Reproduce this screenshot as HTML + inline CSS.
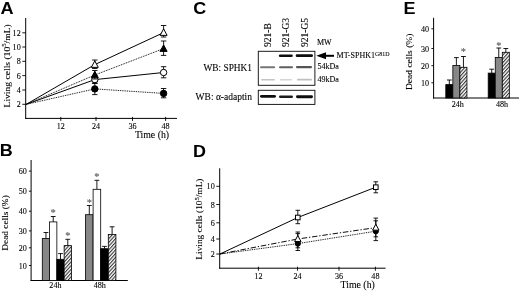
<!DOCTYPE html><html><head><meta charset="utf-8"><title>Figure</title>
<style>html,body{margin:0;padding:0;background:#fff;overflow:hidden}svg{display:block}text{stroke:#000;stroke-width:0.1px}.st{stroke:#555}.L{stroke:none}</style></head><body>
<svg width="520" height="291" viewBox="0 0 520 291">
<defs><pattern id="hatch" width="2.5" height="2.5" patternUnits="userSpaceOnUse" patternTransform="rotate(-48)"><rect width="2.5" height="2.5" fill="#fff"/><line x1="0" y1="0.6" x2="2.5" y2="0.6" stroke="#111" stroke-width="0.95"/></pattern></defs>
<rect width="520" height="291" fill="#fff"/>
<filter id="soft" x="0" y="0" width="520" height="291" filterUnits="userSpaceOnUse"><feGaussianBlur stdDeviation="0.32"/></filter>
<g filter="url(#soft)">
<rect width="520" height="291" fill="#fff"/>
<text transform="translate(0.6,13.6) scale(1.07,1)" font-size="17" text-anchor="start" font-family="Liberation Sans, sans-serif" font-weight="bold" class="L">A</text>
<text transform="translate(-0.2,156.2) scale(1.07,1)" font-size="16.8" text-anchor="start" font-family="Liberation Sans, sans-serif" font-weight="bold" class="L">B</text>
<text transform="translate(193.2,13.8) scale(1.07,1)" font-size="16.8" text-anchor="start" font-family="Liberation Sans, sans-serif" font-weight="bold" class="L">C</text>
<text transform="translate(193,156.7) scale(1.07,1)" font-size="16.8" text-anchor="start" font-family="Liberation Sans, sans-serif" font-weight="bold" class="L">D</text>
<text transform="translate(403.6,13.5) scale(1.07,1)" font-size="16.8" text-anchor="start" font-family="Liberation Sans, sans-serif" font-weight="bold" class="L">E</text>
<line x1="25.7" y1="18" x2="25.7" y2="118.9" stroke="#000" stroke-width="1" />
<line x1="25.2" y1="118.4" x2="177" y2="118.4" stroke="#000" stroke-width="1" />
<line x1="22.3" y1="32.8" x2="25.7" y2="32.8" stroke="#000" stroke-width="0.9" />
<text transform="translate(20.7,35.9) scale(0.89,1)" font-size="9.1" text-anchor="end" font-family="Liberation Serif, serif" >12</text>
<line x1="22.3" y1="47" x2="25.7" y2="47" stroke="#000" stroke-width="0.9" />
<text transform="translate(20.7,50.1) scale(0.89,1)" font-size="9.1" text-anchor="end" font-family="Liberation Serif, serif" >10</text>
<line x1="22.3" y1="61.3" x2="25.7" y2="61.3" stroke="#000" stroke-width="0.9" />
<text transform="translate(20.7,64.4) scale(0.89,1)" font-size="9.1" text-anchor="end" font-family="Liberation Serif, serif" >8</text>
<line x1="22.3" y1="75.6" x2="25.7" y2="75.6" stroke="#000" stroke-width="0.9" />
<text transform="translate(20.7,78.7) scale(0.89,1)" font-size="9.1" text-anchor="end" font-family="Liberation Serif, serif" >6</text>
<line x1="22.3" y1="90" x2="25.7" y2="90" stroke="#000" stroke-width="0.9" />
<text transform="translate(20.7,93.1) scale(0.89,1)" font-size="9.1" text-anchor="end" font-family="Liberation Serif, serif" >4</text>
<line x1="22.3" y1="104.3" x2="25.7" y2="104.3" stroke="#000" stroke-width="0.9" />
<text transform="translate(20.7,107.4) scale(0.89,1)" font-size="9.1" text-anchor="end" font-family="Liberation Serif, serif" >2</text>
<line x1="60.8" y1="116.9" x2="60.8" y2="120.9" stroke="#000" stroke-width="0.9" />
<text transform="translate(60.8,128.8) scale(0.89,1)" font-size="9.1" text-anchor="middle" font-family="Liberation Serif, serif" >12</text>
<line x1="96" y1="116.9" x2="96" y2="120.9" stroke="#000" stroke-width="0.9" />
<text transform="translate(96,128.8) scale(0.89,1)" font-size="9.1" text-anchor="middle" font-family="Liberation Serif, serif" >24</text>
<line x1="132.5" y1="116.9" x2="132.5" y2="120.9" stroke="#000" stroke-width="0.9" />
<text transform="translate(132.5,128.8) scale(0.89,1)" font-size="9.1" text-anchor="middle" font-family="Liberation Serif, serif" >36</text>
<line x1="165.6" y1="116.9" x2="165.6" y2="120.9" stroke="#000" stroke-width="0.9" />
<text transform="translate(165.6,128.8) scale(0.89,1)" font-size="9.1" text-anchor="middle" font-family="Liberation Serif, serif" >48</text>
<text x="152" y="137.8" font-size="9.799999999999999" text-anchor="middle" font-family="Liberation Serif, serif" >Time (h)</text>
<text transform="translate(9.6,65.85) rotate(-90) scale(1.13,1)" font-size="8.5" text-anchor="middle" font-family="Liberation Serif, serif">Living cells (10<tspan font-size="6" dy="-3.2">5</tspan><tspan dy="3.2">/mL)</tspan></text>
<polyline points="26.3,104.3 94.8,64.6 163.6,32.6" fill="none" stroke="#000" stroke-width="1.0" />
<polyline points="26.3,104.3 94.8,79.6 163.6,72.5" fill="none" stroke="#000" stroke-width="1.0" />
<polyline points="26.3,104.3 94.8,75 163.6,48.6" fill="none" stroke="#000" stroke-width="0.95" stroke-dasharray="0.95,0.85"/>
<polyline points="26.3,104.3 94.8,88.9 163.6,93.4" fill="none" stroke="#000" stroke-width="0.95" stroke-dasharray="0.95,0.85"/>
<line x1="94.8" y1="60" x2="94.8" y2="68.5" stroke="#000" stroke-width="0.9" />
<line x1="92.1" y1="60" x2="97.5" y2="60" stroke="#000" stroke-width="0.9" />
<line x1="92.1" y1="68.5" x2="97.5" y2="68.5" stroke="#000" stroke-width="0.9" />
<polygon points="94.8,60.9 91.28,67.38 98.31,67.38" fill="#fff" stroke="#000" stroke-width="1" stroke-linejoin="miter"/>
<line x1="163.6" y1="25.5" x2="163.6" y2="37" stroke="#000" stroke-width="0.9" />
<line x1="160.9" y1="25.5" x2="166.3" y2="25.5" stroke="#000" stroke-width="0.9" />
<line x1="160.9" y1="37" x2="166.3" y2="37" stroke="#000" stroke-width="0.9" />
<polygon points="163.6,28.9 160.09,35.38 167.11,35.38" fill="#fff" stroke="#000" stroke-width="1" stroke-linejoin="miter"/>
<line x1="94.8" y1="75.5" x2="94.8" y2="83.5" stroke="#000" stroke-width="0.9" />
<line x1="92.1" y1="75.5" x2="97.5" y2="75.5" stroke="#000" stroke-width="0.9" />
<line x1="92.1" y1="83.5" x2="97.5" y2="83.5" stroke="#000" stroke-width="0.9" />
<circle cx="94.8" cy="79.6" r="3.2" fill="#fff" stroke="#000" stroke-width="1"/>
<line x1="163.6" y1="66.7" x2="163.6" y2="77.8" stroke="#000" stroke-width="0.9" />
<line x1="160.9" y1="66.7" x2="166.3" y2="66.7" stroke="#000" stroke-width="0.9" />
<line x1="160.9" y1="77.8" x2="166.3" y2="77.8" stroke="#000" stroke-width="0.9" />
<circle cx="163.6" cy="72.5" r="3.2" fill="#fff" stroke="#000" stroke-width="1"/>
<line x1="94.8" y1="70.5" x2="94.8" y2="79" stroke="#000" stroke-width="0.9" />
<line x1="92.1" y1="70.5" x2="97.5" y2="70.5" stroke="#000" stroke-width="0.9" />
<line x1="92.1" y1="79" x2="97.5" y2="79" stroke="#000" stroke-width="0.9" />
<polygon points="94.8,71.3 91.28,77.78 98.31,77.78" fill="#000" stroke="#000" stroke-width="1" stroke-linejoin="miter"/>
<line x1="163.6" y1="41" x2="163.6" y2="55.4" stroke="#000" stroke-width="0.9" />
<line x1="160.9" y1="41" x2="166.3" y2="41" stroke="#000" stroke-width="0.9" />
<line x1="160.9" y1="55.4" x2="166.3" y2="55.4" stroke="#000" stroke-width="0.9" />
<polygon points="163.6,44.9 160.09,51.38 167.11,51.38" fill="#000" stroke="#000" stroke-width="1" stroke-linejoin="miter"/>
<line x1="94.8" y1="83" x2="94.8" y2="94.6" stroke="#000" stroke-width="0.9" />
<line x1="92.1" y1="83" x2="97.5" y2="83" stroke="#000" stroke-width="0.9" />
<line x1="92.1" y1="94.6" x2="97.5" y2="94.6" stroke="#000" stroke-width="0.9" />
<circle cx="94.8" cy="88.9" r="3.2" fill="#000" stroke="#000" stroke-width="1"/>
<line x1="163.6" y1="88.5" x2="163.6" y2="97.8" stroke="#000" stroke-width="0.9" />
<line x1="160.9" y1="88.5" x2="166.3" y2="88.5" stroke="#000" stroke-width="0.9" />
<line x1="160.9" y1="97.8" x2="166.3" y2="97.8" stroke="#000" stroke-width="0.9" />
<circle cx="163.6" cy="93.4" r="3.2" fill="#000" stroke="#000" stroke-width="1"/>
<line x1="31.1" y1="160" x2="31.1" y2="281" stroke="#000" stroke-width="1" />
<line x1="30.6" y1="280.5" x2="127.8" y2="280.5" stroke="#000" stroke-width="1" />
<line x1="28.9" y1="171.1" x2="31.1" y2="171.1" stroke="#000" stroke-width="0.9" />
<text transform="translate(26.8,174.2) scale(0.89,1)" font-size="9.1" text-anchor="end" font-family="Liberation Serif, serif" >60</text>
<line x1="28.9" y1="191.2" x2="31.1" y2="191.2" stroke="#000" stroke-width="0.9" />
<text transform="translate(26.8,194.3) scale(0.89,1)" font-size="9.1" text-anchor="end" font-family="Liberation Serif, serif" >50</text>
<line x1="28.9" y1="211.2" x2="31.1" y2="211.2" stroke="#000" stroke-width="0.9" />
<text transform="translate(26.8,214.3) scale(0.89,1)" font-size="9.1" text-anchor="end" font-family="Liberation Serif, serif" >40</text>
<line x1="28.9" y1="230.9" x2="31.1" y2="230.9" stroke="#000" stroke-width="0.9" />
<text transform="translate(26.8,234) scale(0.89,1)" font-size="9.1" text-anchor="end" font-family="Liberation Serif, serif" >30</text>
<line x1="28.9" y1="247.8" x2="31.1" y2="247.8" stroke="#000" stroke-width="0.9" />
<text transform="translate(26.8,250.9) scale(0.89,1)" font-size="9.1" text-anchor="end" font-family="Liberation Serif, serif" >20</text>
<line x1="28.9" y1="265.5" x2="31.1" y2="265.5" stroke="#000" stroke-width="0.9" />
<text transform="translate(26.8,268.6) scale(0.89,1)" font-size="9.1" text-anchor="end" font-family="Liberation Serif, serif" >10</text>
<text transform="translate(55.4,288.3) scale(0.89,1)" font-size="9.1" text-anchor="middle" font-family="Liberation Serif, serif" >24h</text>
<text transform="translate(99.7,288.3) scale(0.89,1)" font-size="9.1" text-anchor="middle" font-family="Liberation Serif, serif" >48h</text>
<text transform="translate(7.7,223) rotate(-90) scale(1.1,1)" font-size="8.5" text-anchor="middle" font-family="Liberation Serif, serif">Dead cells (%)</text>
<rect x="42.3" y="238.4" width="7.28" height="42.1" fill="#878787" stroke="#000" stroke-width="0.8"/>
<line x1="45.94" y1="232.5" x2="45.94" y2="238.4" stroke="#000" stroke-width="0.9" />
<line x1="43.54" y1="232.5" x2="48.34" y2="232.5" stroke="#000" stroke-width="0.9" />
<rect x="49.58" y="221.9" width="7.28" height="58.6" fill="#fff" stroke="#000" stroke-width="0.8"/>
<line x1="53.22" y1="216.5" x2="53.22" y2="221.9" stroke="#000" stroke-width="0.9" />
<line x1="50.82" y1="216.5" x2="55.62" y2="216.5" stroke="#000" stroke-width="0.9" />
<text x="53.22" y="216" font-size="10.5" text-anchor="middle" font-family="Liberation Serif, serif" fill="#555" class="st">*</text>
<rect x="56.86" y="259.3" width="7.28" height="21.2" fill="#000" stroke="#000" stroke-width="0.8"/>
<line x1="60.5" y1="253.6" x2="60.5" y2="259.3" stroke="#000" stroke-width="0.9" />
<line x1="58.1" y1="253.6" x2="62.9" y2="253.6" stroke="#000" stroke-width="0.9" />
<rect x="64.14" y="245.6" width="7.28" height="34.9" fill="url(#hatch)" stroke="#000" stroke-width="0.8"/>
<line x1="67.78" y1="239.3" x2="67.78" y2="245.6" stroke="#000" stroke-width="0.9" />
<line x1="65.38" y1="239.3" x2="70.18" y2="239.3" stroke="#000" stroke-width="0.9" />
<text x="67.78" y="239" font-size="10.5" text-anchor="middle" font-family="Liberation Serif, serif" fill="#555" class="st">*</text>
<rect x="85.5" y="214.7" width="7.6" height="65.8" fill="#878787" stroke="#000" stroke-width="0.8"/>
<line x1="89.3" y1="205.5" x2="89.3" y2="214.7" stroke="#000" stroke-width="0.9" />
<line x1="86.9" y1="205.5" x2="91.7" y2="205.5" stroke="#000" stroke-width="0.9" />
<text x="89.3" y="205.5" font-size="10.5" text-anchor="middle" font-family="Liberation Serif, serif" fill="#555" class="st">*</text>
<rect x="93.1" y="189.3" width="7.6" height="91.2" fill="#fff" stroke="#000" stroke-width="0.8"/>
<line x1="96.9" y1="180.3" x2="96.9" y2="189.3" stroke="#000" stroke-width="0.9" />
<line x1="94.5" y1="180.3" x2="99.3" y2="180.3" stroke="#000" stroke-width="0.9" />
<text x="96.9" y="180.2" font-size="10.5" text-anchor="middle" font-family="Liberation Serif, serif" fill="#555" class="st">*</text>
<rect x="100.7" y="248.7" width="7.6" height="31.8" fill="#000" stroke="#000" stroke-width="0.8"/>
<line x1="104.5" y1="246.4" x2="104.5" y2="248.7" stroke="#000" stroke-width="0.9" />
<line x1="102.1" y1="246.4" x2="106.9" y2="246.4" stroke="#000" stroke-width="0.9" />
<rect x="108.3" y="234.4" width="7.6" height="46.1" fill="url(#hatch)" stroke="#000" stroke-width="0.8"/>
<line x1="112.1" y1="226.8" x2="112.1" y2="234.4" stroke="#000" stroke-width="0.9" />
<line x1="109.7" y1="226.8" x2="114.5" y2="226.8" stroke="#000" stroke-width="0.9" />
<text transform="translate(270.7,47) rotate(-90)" font-size="9.5" text-anchor="start" font-family="Liberation Serif, serif">921-B</text>
<text transform="translate(289.2,47) rotate(-90)" font-size="9.5" text-anchor="start" font-family="Liberation Serif, serif">921-G3</text>
<text transform="translate(307.7,47) rotate(-90)" font-size="9.5" text-anchor="start" font-family="Liberation Serif, serif">921-G5</text>
<text x="317" y="44.8" font-size="8" text-anchor="start" font-family="Liberation Serif, serif" >MW</text>
<rect x="258.3" y="51.3" width="56.6" height="34" fill="#fff" stroke="#111" stroke-width="0.95"/>
<rect x="258.3" y="90.3" width="56.6" height="14.1" fill="#fff" stroke="#111" stroke-width="0.95"/>
<rect x="278.8" y="54.45" width="14" height="2.5" rx="1.25" fill="#111"/>
<rect x="295.7" y="54.3" width="17.3" height="2.8" rx="1.4" fill="#0a0a0a"/>
<rect x="260" y="66.25" width="15.2" height="1.9" rx="0.95" fill="#777"/>
<rect x="279" y="66.2" width="14" height="2" rx="1" fill="#606060"/>
<rect x="296" y="66.1" width="16" height="2.2" rx="1.1" fill="#555"/>
<rect x="261" y="78.9" width="14" height="1.6" rx="0.8" fill="#c4c4c4"/>
<rect x="280" y="78.95" width="12" height="1.5" rx="0.75" fill="#d4d4d4"/>
<rect x="297" y="78.85" width="15" height="1.7" rx="0.85" fill="#c0c0c0"/>
<rect x="260" y="94.9" width="16" height="2.8" rx="1.4" fill="#111"/>
<rect x="279" y="95.6" width="14" height="2.4" rx="1.2" fill="#1a1a1a"/>
<rect x="296" y="95.35" width="17" height="2.9" rx="1.45" fill="#111"/>
<text x="252" y="70.6" font-size="9.35" text-anchor="end" font-family="Liberation Serif, serif" >WB: SPHK1</text>
<text x="252" y="100.1" font-size="9.5" text-anchor="end" font-family="Liberation Serif, serif" >WB: α-adaptin</text>
<polygon points="316.3,55.8 326,52.3 326,59.3" fill="#000"/>
<line x1="325" y1="55.8" x2="334" y2="55.8" stroke="#000" stroke-width="2" />
<text x="336.6" y="58.3" font-size="8" font-family="Liberation Serif, serif">MT-SPHK1<tspan font-size="5.9" dy="-2.5">G81D</tspan></text>
<text x="317.5" y="68.9" font-size="8" text-anchor="start" font-family="Liberation Serif, serif" >54kDa</text>
<text x="317.5" y="82.2" font-size="8" text-anchor="start" font-family="Liberation Serif, serif" >49kDa</text>
<line x1="219.7" y1="168.3" x2="219.7" y2="268.7" stroke="#000" stroke-width="1" />
<line x1="219.2" y1="268.2" x2="385.6" y2="268.2" stroke="#000" stroke-width="1" />
<line x1="216.3" y1="186.3" x2="219.7" y2="186.3" stroke="#000" stroke-width="0.9" />
<text transform="translate(214.7,189.4) scale(0.89,1)" font-size="9.1" text-anchor="end" font-family="Liberation Serif, serif" >10</text>
<line x1="216.3" y1="204.5" x2="219.7" y2="204.5" stroke="#000" stroke-width="0.9" />
<text transform="translate(214.7,207.6) scale(0.89,1)" font-size="9.1" text-anchor="end" font-family="Liberation Serif, serif" >8</text>
<line x1="216.3" y1="222.8" x2="219.7" y2="222.8" stroke="#000" stroke-width="0.9" />
<text transform="translate(214.7,225.9) scale(0.89,1)" font-size="9.1" text-anchor="end" font-family="Liberation Serif, serif" >6</text>
<line x1="216.3" y1="239" x2="219.7" y2="239" stroke="#000" stroke-width="0.9" />
<text transform="translate(214.7,242.1) scale(0.89,1)" font-size="9.1" text-anchor="end" font-family="Liberation Serif, serif" >4</text>
<line x1="216.3" y1="254" x2="219.7" y2="254" stroke="#000" stroke-width="0.9" />
<text transform="translate(214.7,257.1) scale(0.89,1)" font-size="9.1" text-anchor="end" font-family="Liberation Serif, serif" >2</text>
<line x1="258.4" y1="266.7" x2="258.4" y2="270.7" stroke="#000" stroke-width="0.9" />
<text transform="translate(258.4,278.8) scale(0.89,1)" font-size="9.1" text-anchor="middle" font-family="Liberation Serif, serif" >12</text>
<line x1="297.5" y1="266.7" x2="297.5" y2="270.7" stroke="#000" stroke-width="0.9" />
<text transform="translate(297.5,278.8) scale(0.89,1)" font-size="9.1" text-anchor="middle" font-family="Liberation Serif, serif" >24</text>
<line x1="339" y1="266.7" x2="339" y2="270.7" stroke="#000" stroke-width="0.9" />
<text transform="translate(339,278.8) scale(0.89,1)" font-size="9.1" text-anchor="middle" font-family="Liberation Serif, serif" >36</text>
<line x1="375.4" y1="266.7" x2="375.4" y2="270.7" stroke="#000" stroke-width="0.9" />
<text transform="translate(375.4,278.8) scale(0.89,1)" font-size="9.1" text-anchor="middle" font-family="Liberation Serif, serif" >48</text>
<text x="357.7" y="287.5" font-size="9.799999999999999" text-anchor="middle" font-family="Liberation Serif, serif" >Time (h)</text>
<text transform="translate(202,219.1) rotate(-90) scale(1.1,1)" font-size="8.5" text-anchor="middle" font-family="Liberation Serif, serif">Living cells (10<tspan font-size="6" dy="-3.2">5</tspan><tspan dy="3.2">/mL)</tspan></text>
<polyline points="220,254 297.8,217.5 375.8,187.2" fill="none" stroke="#000" stroke-width="1.0" />
<polyline points="220,254 297.8,239 375.8,227.6" fill="none" stroke="#000" stroke-width="0.95" stroke-dasharray="5.5,1.8,1.3,1.8"/>
<polyline points="220,254 297.8,243.6 375.8,231.2" fill="none" stroke="#000" stroke-width="0.95" stroke-dasharray="0.95,0.85"/>
<line x1="297.8" y1="210.3" x2="297.8" y2="223.7" stroke="#000" stroke-width="0.9" />
<line x1="295.5" y1="210.3" x2="300.1" y2="210.3" stroke="#000" stroke-width="0.9" />
<line x1="295.5" y1="223.7" x2="300.1" y2="223.7" stroke="#000" stroke-width="0.9" />
<rect x="295.5" y="215.2" width="4.6" height="4.6" fill="#fff" stroke="#000" stroke-width="1"/>
<line x1="375.8" y1="181.8" x2="375.8" y2="192.8" stroke="#000" stroke-width="0.9" />
<line x1="373.5" y1="181.8" x2="378.1" y2="181.8" stroke="#000" stroke-width="0.9" />
<line x1="373.5" y1="192.8" x2="378.1" y2="192.8" stroke="#000" stroke-width="0.9" />
<rect x="373.5" y="184.9" width="4.6" height="4.6" fill="#fff" stroke="#000" stroke-width="1"/>
<line x1="297.8" y1="233.6" x2="297.8" y2="250.5" stroke="#000" stroke-width="0.9" />
<line x1="295.5" y1="233.6" x2="300.1" y2="233.6" stroke="#000" stroke-width="0.9" />
<line x1="295.5" y1="250.5" x2="300.1" y2="250.5" stroke="#000" stroke-width="0.9" />
<circle cx="297.8" cy="243.6" r="2.6" fill="#000" stroke="#000" stroke-width="1"/>
<line x1="375.8" y1="220.8" x2="375.8" y2="240.6" stroke="#000" stroke-width="0.9" />
<line x1="373.5" y1="220.8" x2="378.1" y2="220.8" stroke="#000" stroke-width="0.9" />
<line x1="373.5" y1="240.6" x2="378.1" y2="240.6" stroke="#000" stroke-width="0.9" />
<circle cx="375.8" cy="231.2" r="2.6" fill="#000" stroke="#000" stroke-width="1"/>
<line x1="297.8" y1="232" x2="297.8" y2="247.8" stroke="#000" stroke-width="0.9" />
<line x1="295.5" y1="232" x2="300.1" y2="232" stroke="#000" stroke-width="0.9" />
<line x1="295.5" y1="247.8" x2="300.1" y2="247.8" stroke="#000" stroke-width="0.9" />
<polygon points="297.8,235.6 294.57,241.55 301.03,241.55" fill="#fff" stroke="#000" stroke-width="1" stroke-linejoin="miter"/>
<line x1="375.8" y1="218.1" x2="375.8" y2="236.8" stroke="#000" stroke-width="0.9" />
<line x1="373.5" y1="218.1" x2="378.1" y2="218.1" stroke="#000" stroke-width="0.9" />
<line x1="373.5" y1="236.8" x2="378.1" y2="236.8" stroke="#000" stroke-width="0.9" />
<polygon points="375.8,224.2 372.57,230.15 379.03,230.15" fill="#fff" stroke="#000" stroke-width="1" stroke-linejoin="miter"/>
<line x1="433.6" y1="17.8" x2="433.6" y2="98.5" stroke="#000" stroke-width="1" />
<line x1="433.1" y1="98" x2="519" y2="98" stroke="#000" stroke-width="1" />
<line x1="431.4" y1="28.8" x2="433.6" y2="28.8" stroke="#000" stroke-width="0.9" />
<text transform="translate(429.1,31.9) scale(0.89,1)" font-size="9.1" text-anchor="end" font-family="Liberation Serif, serif" >40</text>
<line x1="431.4" y1="48.5" x2="433.6" y2="48.5" stroke="#000" stroke-width="0.9" />
<text transform="translate(429.1,51.6) scale(0.89,1)" font-size="9.1" text-anchor="end" font-family="Liberation Serif, serif" >30</text>
<line x1="431.4" y1="65.7" x2="433.6" y2="65.7" stroke="#000" stroke-width="0.9" />
<text transform="translate(429.1,68.8) scale(0.89,1)" font-size="9.1" text-anchor="end" font-family="Liberation Serif, serif" >20</text>
<line x1="431.4" y1="82.8" x2="433.6" y2="82.8" stroke="#000" stroke-width="0.9" />
<text transform="translate(429.1,85.9) scale(0.89,1)" font-size="9.1" text-anchor="end" font-family="Liberation Serif, serif" >10</text>
<text transform="translate(457.7,106.7) scale(0.89,1)" font-size="9.1" text-anchor="middle" font-family="Liberation Serif, serif" >24h</text>
<text transform="translate(502,106.7) scale(0.89,1)" font-size="9.1" text-anchor="middle" font-family="Liberation Serif, serif" >48h</text>
<text transform="translate(412.4,61.8) rotate(-90) scale(1.12,1)" font-size="8.5" text-anchor="middle" font-family="Liberation Serif, serif">Dead cells (%)</text>
<rect x="445.8" y="84.6" width="7.05" height="13.4" fill="#000" stroke="#000" stroke-width="0.8"/>
<line x1="449.32" y1="80" x2="449.32" y2="84.6" stroke="#000" stroke-width="0.9" />
<line x1="446.93" y1="80" x2="451.72" y2="80" stroke="#000" stroke-width="0.9" />
<rect x="452.85" y="65.5" width="7.05" height="32.5" fill="#878787" stroke="#000" stroke-width="0.8"/>
<line x1="456.38" y1="57.6" x2="456.38" y2="65.5" stroke="#000" stroke-width="0.9" />
<line x1="453.98" y1="57.6" x2="458.77" y2="57.6" stroke="#000" stroke-width="0.9" />
<rect x="459.9" y="67.3" width="7.05" height="30.7" fill="url(#hatch)" stroke="#000" stroke-width="0.8"/>
<line x1="463.43" y1="56.5" x2="463.43" y2="67.3" stroke="#000" stroke-width="0.9" />
<line x1="461.03" y1="56.5" x2="465.82" y2="56.5" stroke="#000" stroke-width="0.9" />
<text x="463.43" y="55.2" font-size="10.5" text-anchor="middle" font-family="Liberation Serif, serif" fill="#555" class="st">*</text>
<rect x="488.2" y="73.1" width="7.05" height="24.9" fill="#000" stroke="#000" stroke-width="0.8"/>
<line x1="491.72" y1="69.2" x2="491.72" y2="73.1" stroke="#000" stroke-width="0.9" />
<line x1="489.32" y1="69.2" x2="494.12" y2="69.2" stroke="#000" stroke-width="0.9" />
<rect x="495.25" y="57.4" width="7.05" height="40.6" fill="#878787" stroke="#000" stroke-width="0.8"/>
<line x1="498.77" y1="48" x2="498.77" y2="57.4" stroke="#000" stroke-width="0.9" />
<line x1="496.38" y1="48" x2="501.17" y2="48" stroke="#000" stroke-width="0.9" />
<text x="498.77" y="48.5" font-size="10.5" text-anchor="middle" font-family="Liberation Serif, serif" fill="#555" class="st">*</text>
<rect x="502.3" y="52.3" width="7.05" height="45.7" fill="url(#hatch)" stroke="#000" stroke-width="0.8"/>
<line x1="505.82" y1="48.5" x2="505.82" y2="52.3" stroke="#000" stroke-width="0.9" />
<line x1="503.43" y1="48.5" x2="508.22" y2="48.5" stroke="#000" stroke-width="0.9" />
</g></svg></body></html>
